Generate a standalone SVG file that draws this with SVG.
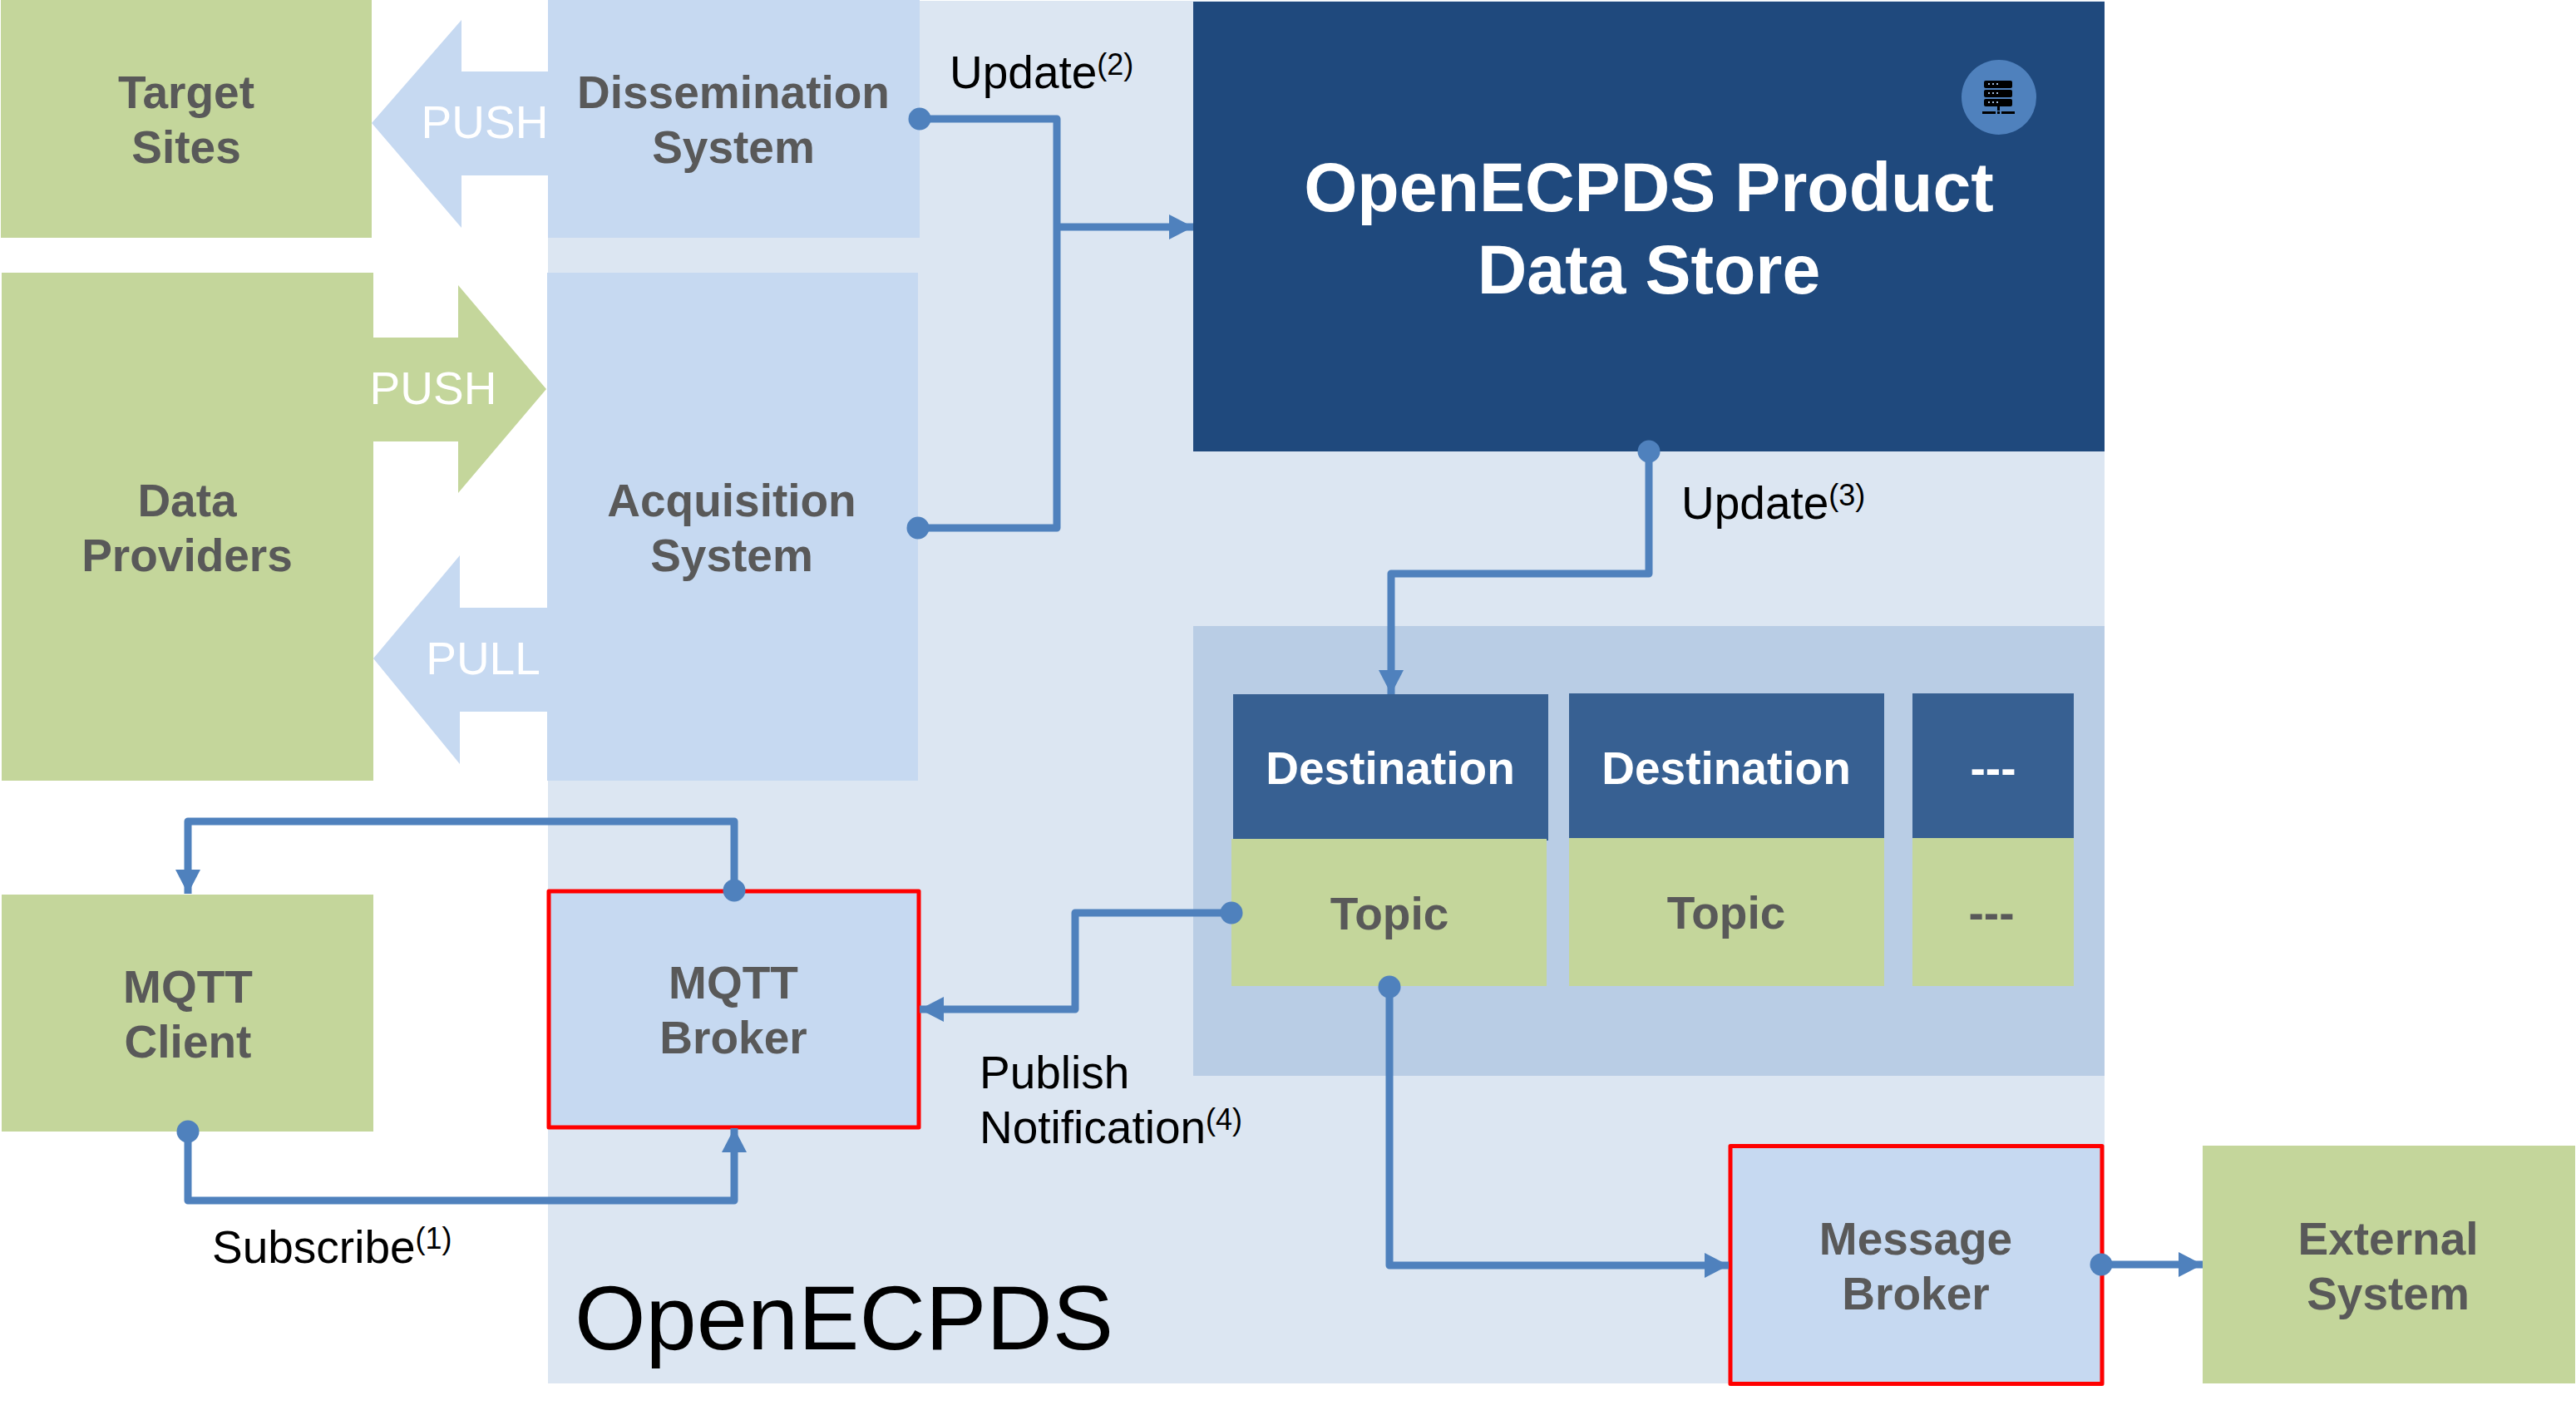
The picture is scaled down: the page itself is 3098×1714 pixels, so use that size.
<svg xmlns="http://www.w3.org/2000/svg" width="3098" height="1714" viewBox="0 0 3098 1714">
<defs>
<style>
text{font-family:"Liberation Sans",Arial,sans-serif}
.n{font-size:55px;font-weight:700;fill:#595959;text-anchor:middle}
.w{font-size:55px;font-weight:700;fill:#fff;text-anchor:middle}
.p{font-size:55px;fill:#fff;text-anchor:middle}
.l{font-size:55px;fill:#000}
.s{font-size:36px}
.g{fill:#c4d69b}.b{fill:#c6d9f1}.d{fill:#376092}
.r{fill:#c6d9f1;stroke:#f00;stroke-width:5;stroke-linejoin:round}
.c{fill:none;stroke:#4f81bd;stroke-width:9;stroke-linejoin:round}
.dot{fill:#4f81bd}
</style>
<marker id="a" markerUnits="userSpaceOnUse" markerWidth="30" markerHeight="30" refX="29" refY="15" orient="auto" overflow="visible"><path d="M0 0L29 15L0 30Z" fill="#4f81bd"/></marker>
</defs>
<rect width="3098" height="1714" fill="#fff"/>
<g id="openecpds"><rect x="659" y="1" width="1872" height="1663" fill="#dce6f2"/><text x="691" y="1623" font-size="110" fill="#000">OpenECPDS</text></g>
<g id="target-sites"><rect class="g" x="1" y="0" width="446" height="286"/><text class="n" x="224" y="130">Target</text><text class="n" x="224" y="196">Sites</text></g>
<g id="push-out"><path class="b" d="M447 148L555 24V86H659V211H555V274Z"/><text class="p" x="583" y="166">PUSH</text></g>
<g id="dissemination"><rect class="b" x="659" y="0" width="447" height="286"/><text class="n" x="882" y="130">Dissemination</text><text class="n" x="882" y="196">System</text></g>
<g id="data-providers"><rect class="g" x="2" y="328" width="447" height="611"/><text class="n" x="225" y="621">Data</text><text class="n" x="225" y="687">Providers</text></g>
<g id="push-in"><path class="g" d="M449 406H551V343L657 468L551 593V531H449Z"/><text class="p" x="521" y="486">PUSH</text></g>
<g id="pull"><path class="b" d="M449 792L553 668V731H659V856H553V919Z"/><text class="p" x="581" y="811">PULL</text></g>
<g id="acquisition"><rect class="b" x="658" y="328" width="446" height="611"/><text class="n" x="880" y="621">Acquisition</text><text class="n" x="880" y="687">System</text></g>
<g id="data-store"><rect x="1435" y="2" width="1096" height="541" fill="#1f497d"/><circle cx="2404" cy="117" r="45" fill="#4f81bd"/><g fill="#000"><rect x="2386" y="97" width="34" height="9" rx="2"/><rect x="2386" y="108" width="34" height="9" rx="2"/><rect x="2386" y="119" width="34" height="9" rx="2"/><rect x="2402" y="128" width="3" height="5"/><rect x="2384" y="134" width="16" height="3"/><rect x="2402" y="134" width="3" height="3"/><rect x="2407" y="134" width="16" height="3"/></g><g fill="#9db7d8"><rect x="2391" y="100" width="2" height="2"/><rect x="2396" y="100" width="2" height="2"/><rect x="2401" y="100" width="2" height="2"/><rect x="2391" y="111" width="2" height="2"/><rect x="2396" y="111" width="2" height="2"/><rect x="2401" y="111" width="2" height="2"/><rect x="2391" y="122" width="2" height="2"/><rect x="2396" y="122" width="2" height="2"/><rect x="2401" y="122" width="2" height="2"/></g><text class="w" x="1983" y="254" style="font-size:82.500px">OpenECPDS Product</text><text class="w" x="1983" y="353" style="font-size:82.500px">Data Store</text></g>
<g id="panel"><rect x="1435" y="753" width="1096" height="541" fill="#b9cde5"/></g>
<g id="dest1"><rect class="d" x="1483" y="835" width="379" height="176"/><rect class="g" x="1481" y="1009" width="379" height="177"/><text class="w" x="1672" y="943">Destination</text><text class="n" x="1671" y="1118">Topic</text></g>
<g id="dest2"><rect class="d" x="1887" y="834" width="379" height="176"/><rect class="g" x="1887" y="1008" width="379" height="178"/><text class="w" x="2076" y="943">Destination</text><text class="n" x="2076" y="1117">Topic</text></g>
<g id="dest3"><rect class="d" x="2300" y="834" width="194" height="176"/><rect class="g" x="2300" y="1008" width="194" height="178"/><text class="w" x="2397" y="943">---</text><text class="n" x="2395" y="1117">---</text></g>
<g id="mqtt-client"><rect class="g" x="2" y="1076" width="447" height="285"/><text class="n" x="226" y="1206">MQTT</text><text class="n" x="226" y="1272">Client</text></g>
<g id="mqtt-broker"><rect class="r" x="660" y="1072" width="445" height="284"/><text class="n" x="882" y="1201">MQTT</text><text class="n" x="882" y="1267">Broker</text></g>
<g id="message-broker"><rect class="r" x="2081" y="1378.500" width="447" height="286"/><text class="n" x="2304" y="1509">Message</text><text class="n" x="2304" y="1575">Broker</text></g>
<g id="external"><rect class="g" x="2649" y="1378" width="448" height="286"/><text class="n" x="2872" y="1509">External</text><text class="n" x="2872" y="1575">System</text></g>
<g id="connectors">
<path class="c" d="M1106 143H1271V635H1104"/>
<path class="c" d="M1271 273H1435" marker-end="url(#a)"/>
<path class="c" d="M1983 543V690H1673V835" marker-end="url(#a)"/>
<path class="c" d="M1481 1098H1293V1214H1106" marker-end="url(#a)"/>
<path class="c" d="M1671 1187V1522H2079" marker-end="url(#a)"/>
<path class="c" d="M2527 1521H2649" marker-end="url(#a)"/>
<path class="c" d="M883 1071V988H226V1075" marker-end="url(#a)"/>
<path class="c" d="M226 1361V1444H883V1357" marker-end="url(#a)"/>
<circle class="dot" cx="1106" cy="143" r="13.500"/><circle class="dot" cx="1104" cy="635" r="13.500"/><circle class="dot" cx="1983" cy="543" r="13.500"/><circle class="dot" cx="1481" cy="1098" r="13.500"/><circle class="dot" cx="1671" cy="1187" r="13.500"/><circle class="dot" cx="2527" cy="1521" r="13.500"/><circle class="dot" cx="883" cy="1071" r="13.500"/><circle class="dot" cx="226" cy="1361" r="13.500"/>
</g>
<text class="l" x="1142" y="106">Update<tspan class="s" dy="-16">(2)</tspan></text>
<text class="l" x="2022" y="624">Update<tspan class="s" dy="-16">(3)</tspan></text>
<text class="l" x="1178" y="1309">Publish</text>
<text class="l" x="1178" y="1375">Notification<tspan class="s" dy="-16">(4)</tspan></text>
<text class="l" x="255" y="1519">Subscribe<tspan class="s" dy="-17">(1)</tspan></text>
</svg>
